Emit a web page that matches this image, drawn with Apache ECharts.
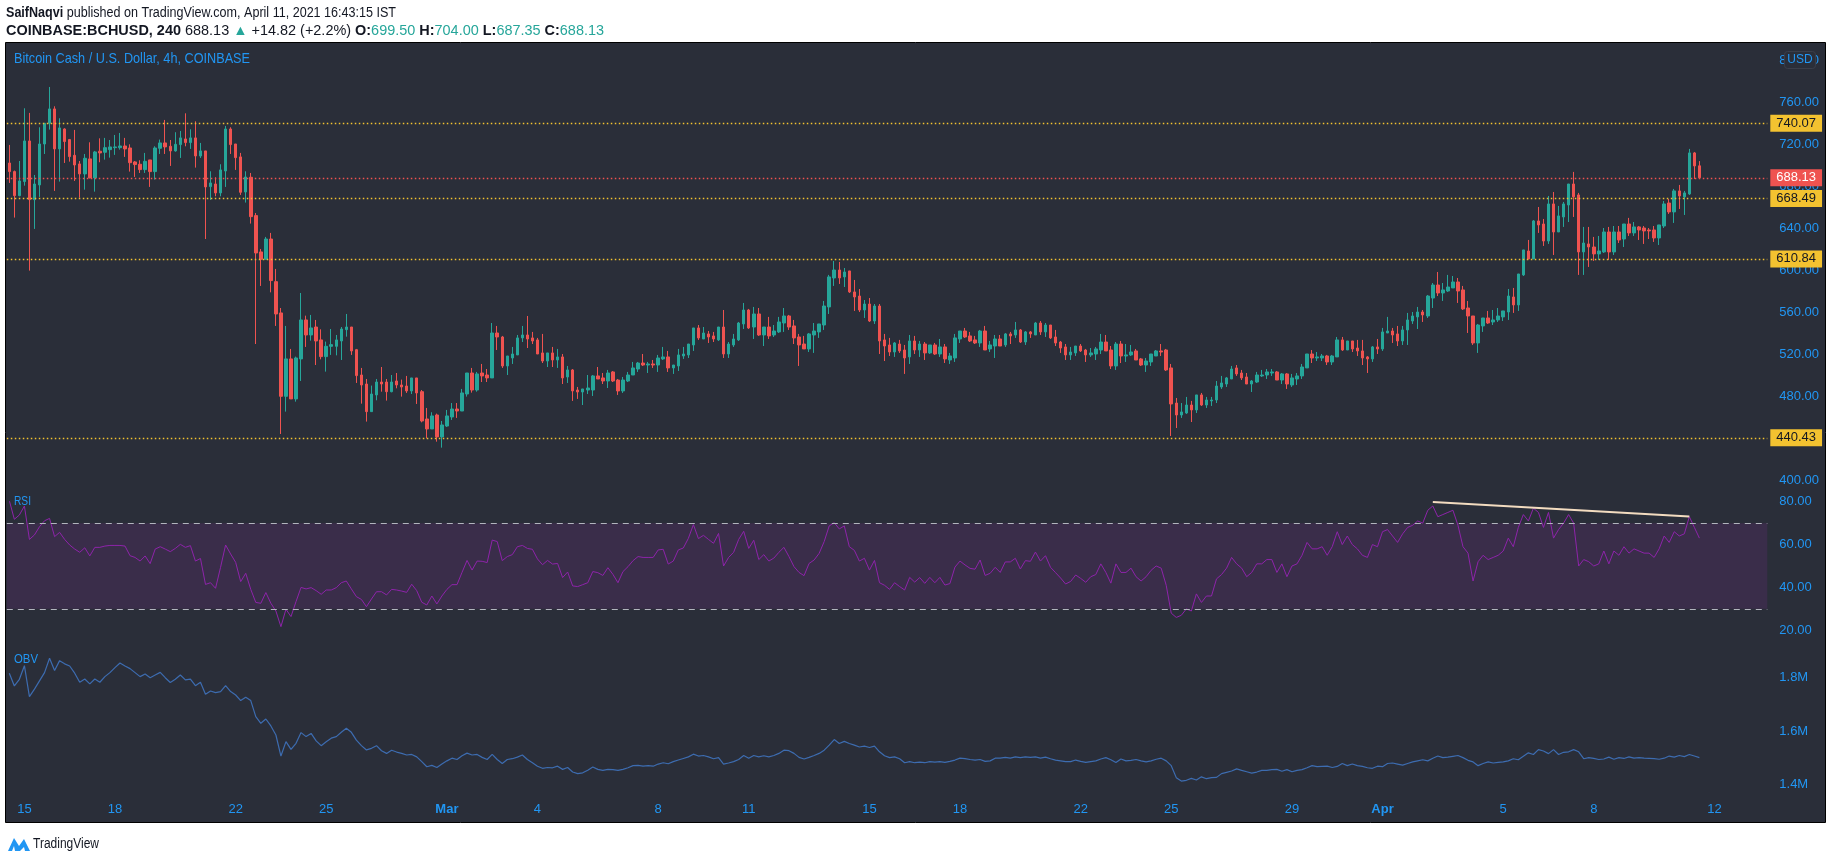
<!DOCTYPE html>
<html><head><meta charset="utf-8">
<script src="https://cdn.jsdelivr.net/npm/echarts@6/dist/echarts.min.js"></script>
<style>html,body{margin:0;padding:0;background:#fff;}#c{width:1828px;height:862px;}</style>
</head><body><div id="c"></div>
<script>
// ---- DATA ----
// 4h candles BCHUSD, [open, high, low, close]
const candles = [
[702.2,719.4,683.2,694.0],[694.0,695.0,650.2,671.1],[671.1,704.1,670.5,685.1],[684.5,754.3,680.6,723.2],[723.2,749.9,599.7,667.3],
[667.3,690.8,639.4,682.2],[681.3,736.2,669.9,720.3],[720.3,740.0,710.8,740.0],[740.0,774.6,734.0,753.7],[753.7,756.2,675.6,715.6],
[715.6,744.8,684.5,735.6],[734.6,735.3,702.2,722.6],[724.5,725.1,703.5,708.3],[709.5,733.7,685.1,700.3],[701.3,704.1,669.2,691.8],
[691.8,710.8,676.8,706.7],[706.1,721.9,687.6,688.0],[688.0,713.7,674.9,712.7],[713.4,725.7,702.9,711.8],[712.4,726.1,705.4,716.8],
[714.9,724.1,707.3,717.5],[716.8,728.9,709.9,717.5],[716.8,730.8,714.9,718.4],[718.4,726.1,708.0,715.6],[716.5,720.0,694.0,702.5],
[703.2,704.1,688.9,700.7],[701.0,704.8,692.7,695.9],[695.9,711.8,692.7,703.8],[705.1,705.1,679.4,694.0],[694.0,718.1,686.4,716.5],
[716.2,724.5,710.8,721.3],[721.3,743.2,710.8,717.5],[718.1,724.1,699.4,713.7],[713.7,731.5,713.0,720.0],[719.7,732.7,707.0,726.1],
[725.1,749.5,718.1,721.6],[721.6,734.3,715.6,726.1],[726.1,741.9,697.8,708.9],[708.9,721.3,707.0,713.7],[713.7,713.7,629.8,679.4],
[679.7,694.3,667.0,683.2],[682.2,688.6,670.5,673.7],[673.7,701.0,670.5,695.6],[694.6,737.5,679.4,734.6],[734.6,736.2,710.8,719.7],
[720.3,720.3,695.6,707.3],[708.0,711.8,671.8,674.3],[674.6,694.3,664.5,688.9],[688.6,692.7,644.5,651.1],[652.1,654.6,529.8,616.5],
[617.5,620.3,585.1,610.5],[610.5,631.8,610.5,629.8],[629.8,635.6,579.0,590.2],[589.2,601.3,547.0,558.4],[559.4,564.1,444.1,480.0],
[480.0,547.0,465.4,515.6],[515.6,525.1,477.5,477.5],[477.5,517.8,474.9,516.5],[515.6,578.4,494.6,552.7],[552.7,556.8,527.0,538.4],
[538.4,557.5,533.0,545.1],[546.0,552.7,509.8,532.7],[533.7,543.8,515.2,517.8],[517.8,532.1,503.5,527.6],[527.6,544.1,519.4,529.2],
[527.6,538.4,519.0,533.7],[532.7,546.0,514.6,544.1],[543.5,558.4,536.8,546.0],[546.0,546.0,519.4,523.2],[524.4,525.1,492.7,499.7],
[500.3,507.0,473.0,490.8],[491.7,496.5,455.9,465.4],[465.4,490.2,465.4,482.2],[481.3,496.5,476.2,493.6],[493.6,507.9,484.4,491.7],
[493.6,496.5,475.9,484.4],[484.4,500.3,483.8,493.6],[494.6,502.2,487.6,490.8],[490.8,495.9,479.7,488.9],[489.8,499.4,483.2,485.1],
[485.1,497.5,482.2,497.5],[497.5,497.5,472.7,483.2],[484.4,486.0,455.2,456.5],[458.4,468.9,440.0,448.9],[448.9,464.8,448.9,461.3],
[462.2,463.5,436.8,441.3],[441.3,456.5,431.1,452.7],[451.7,467.0,450.8,461.3],[460.3,473.6,457.5,467.9],[467.9,473.6,459.4,466.0],
[466.0,487.0,466.0,483.2],[482.2,502.2,479.7,502.2],[502.2,507.0,483.5,486.0],[486.0,503.2,484.4,501.3],[502.2,510.8,493.6,499.4],
[500.3,506.0,493.6,497.5],[497.5,549.8,497.5,540.3],[540.3,547.0,524.1,536.5],[536.5,537.5,507.0,508.9],[508.9,518.4,500.3,518.4],
[516.5,527.0,510.8,520.3],[519.4,538.4,519.4,535.6],[535.6,547.0,531.7,538.4],[538.4,556.5,526.0,534.6],[535.6,541.3,529.8,532.7],
[533.7,535.6,520.3,520.3],[521.3,539.4,511.7,513.6],[513.6,521.3,507.9,521.3],[521.3,527.0,507.9,514.6],[514.6,525.1,507.0,517.5],
[517.5,520.3,491.7,497.5],[498.4,508.9,492.7,505.1],[505.1,506.0,475.6,485.1],[486.0,488.9,477.5,484.1],[484.1,487.0,471.7,487.0],
[486.0,500.3,482.2,487.9],[486.0,500.3,480.3,499.4],[499.4,507.9,496.5,496.5],[497.5,502.2,491.7,494.6],[494.6,505.1,487.9,502.2],
[503.2,504.1,493.6,494.6],[495.5,496.5,481.3,485.1],[485.1,498.4,483.2,495.5],[494.6,503.2,493.6,500.3],[500.3,512.7,500.3,507.0],
[506.0,512.7,503.2,511.7],[511.7,520.3,508.9,509.8],[509.8,512.7,502.2,510.8],[510.8,514.6,507.0,509.8],[509.8,519.4,503.2,516.5],
[515.6,527.0,514.6,517.5],[517.5,523.2,503.2,507.0],[507.0,509.8,501.3,509.8],[508.9,525.1,504.1,519.4],[518.4,527.0,515.6,520.3],
[519.4,529.8,516.5,529.8],[528.9,545.1,523.2,545.1],[545.1,547.9,533.7,535.6],[534.6,546.0,534.6,540.3],[539.4,542.2,530.8,536.5],
[537.5,541.3,531.7,534.6],[533.7,546.0,532.7,546.0],[546.0,562.2,516.5,520.3],[520.3,531.7,516.5,529.8],[528.9,539.4,527.0,534.6],
[533.7,550.8,532.7,549.8],[548.9,568.9,544.1,562.2],[562.2,563.2,544.1,545.1],[546.0,565.1,534.6,558.4],[558.4,564.1,537.5,538.4],
[538.4,546.0,527.9,546.0],[546.0,555.6,534.6,537.5],[538.4,547.9,536.5,542.2],[541.3,555.6,540.3,550.8],[549.8,564.1,541.3,556.5],
[556.5,557.5,543.2,546.0],[547.0,552.7,529.8,535.6],[536.5,539.4,508.9,528.9],[529.8,537.5,525.1,525.1],[525.1,540.3,522.2,539.4],
[538.4,549.8,521.3,542.2],[541.3,548.9,535.6,548.9],[547.9,570.8,543.2,566.0],[565.1,595.6,558.4,593.7],[592.7,608.9,585.1,600.3],
[600.3,608.0,587.0,592.7],[593.7,602.2,584.1,598.4],[599.4,599.4,578.4,579.4],[579.4,590.8,561.3,574.6],[575.5,582.2,560.3,562.2],
[562.2,571.7,554.6,567.9],[567.9,573.6,550.8,551.7],[551.7,567.9,548.9,566.0],[566.0,567.9,520.3,532.7],[533.7,539.4,513.6,527.9],
[528.9,535.6,518.4,522.2],[522.2,531.7,517.5,530.8],[529.8,533.7,521.3,523.2],[524.1,528.9,501.3,516.5],[517.5,538.4,510.8,532.7],
[532.7,537.5,520.3,524.1],[524.1,532.7,517.5,529.8],[529.8,531.7,514.6,521.3],[521.3,528.9,520.3,528.9],[528.9,530.8,519.4,520.3],
[520.3,534.6,517.5,527.0],[527.0,529.8,511.7,515.6],[514.6,521.3,510.8,518.4],[516.5,539.4,512.7,535.6],[534.6,542.2,530.8,542.2],
[542.2,545.1,535.6,536.5],[537.5,541.3,531.7,532.7],[533.7,537.5,529.8,530.8],[530.8,543.2,527.0,542.2],[542.2,547.0,524.1,524.1],
[525.1,532.7,522.2,528.9],[527.9,538.4,516.5,534.6],[534.6,538.4,527.9,527.9],[528.9,540.3,527.0,539.4],[539.4,541.3,529.8,537.5],
[538.4,550.8,535.6,543.2],[543.2,544.1,530.8,531.7],[531.7,542.2,528.9,541.3],[541.3,542.2,535.6,539.4],[538.4,550.8,538.4,549.8],
[549.8,551.7,538.4,541.3],[541.3,549.8,536.5,547.9],[547.9,547.9,534.6,535.6],[536.5,543.2,527.9,530.8],[531.7,532.7,521.3,526.0],
[527.0,529.8,514.6,519.4],[519.4,527.0,514.6,522.2],[521.3,527.9,518.4,527.9],[527.9,529.8,522.2,523.2],[524.1,525.1,512.7,519.4],
[519.4,526.0,517.5,521.3],[520.3,527.0,514.6,525.1],[524.1,539.4,520.3,531.7],[531.7,538.4,523.2,523.2],[524.1,527.9,506.0,508.9],
[508.9,531.7,505.1,529.8],[529.8,532.7,511.7,518.4],[518.4,529.8,512.7,519.4],[519.4,528.9,518.4,522.2],[523.2,525.1,514.6,514.6],
[515.6,516.5,508.9,509.8],[509.8,516.5,503.2,513.6],[512.7,520.3,508.9,520.3],[518.4,524.1,518.4,523.2],[523.2,529.8,518.4,522.2],
[524.1,525.1,504.1,505.1],[507.0,510.8,442.2,472.7],[473.6,478.4,449.8,462.2],[462.2,473.6,459.4,465.1],[464.1,479.4,463.2,471.7],
[471.7,475.6,455.5,467.0],[467.0,481.3,464.1,481.3],[481.3,483.2,470.8,471.7],[471.7,479.4,468.9,476.5],[475.6,479.4,470.8,476.5],
[476.5,494.6,473.6,489.8],[488.9,499.4,487.0,492.7],[491.7,498.4,488.9,497.5],[496.5,508.9,496.5,506.0],[507.0,509.8,499.4,501.3],
[502.2,505.1,495.5,497.5],[498.4,502.2,491.7,491.7],[491.7,495.5,484.1,494.6],[493.6,503.2,492.7,500.3],[499.4,505.1,498.4,500.3],
[500.3,506.0,496.5,503.2],[502.2,506.0,499.4,503.2],[503.2,504.1,495.5,495.5],[495.5,502.2,491.7,501.3],[501.3,502.2,487.0,491.7],
[490.8,501.3,488.9,497.5],[496.5,502.2,490.8,499.4],[499.4,510.8,496.5,507.9],[507.0,520.3,507.0,520.3],[520.3,524.1,511.7,516.5],
[516.5,522.2,513.6,517.5],[516.5,520.3,513.6,518.4],[518.4,519.4,509.8,512.7],[512.7,519.4,509.8,518.4],[517.5,536.5,517.5,533.7],
[533.7,536.5,523.2,524.1],[524.1,532.7,524.1,532.7],[532.7,532.7,522.2,525.1],[526.0,533.7,518.4,523.2],[523.2,533.7,509.8,516.5],
[517.5,518.4,502.2,515.6],[515.6,527.9,512.7,527.0],[527.0,534.6,520.3,525.1],[525.1,545.1,523.2,541.3],[540.3,555.6,540.3,542.2],
[542.2,545.1,530.8,538.4],[539.4,547.0,527.9,532.7],[532.7,547.0,528.9,543.2],[543.2,559.4,528.9,552.7],[551.7,560.3,548.9,556.5],
[555.6,565.1,544.1,560.3],[560.3,562.2,550.8,557.5],[556.5,576.5,554.6,575.5],[573.6,587.9,564.1,586.0],[586.0,598.4,575.5,578.4],
[578.4,587.9,570.8,581.3],[580.3,595.6,579.4,584.1],[583.2,594.6,583.2,588.9],[588.9,592.7,568.9,580.3],[581.3,585.1,562.2,563.2],
[564.1,570.8,540.3,556.5],[556.5,556.5,528.9,530.8],[530.8,548.9,521.3,547.9],[547.0,554.6,541.3,554.6],[554.6,561.3,548.9,549.8],
[550.8,562.2,547.9,552.7],[552.7,564.1,550.8,556.5],[555.6,561.3,551.7,561.3],[560.3,582.2,552.7,575.5],[574.6,583.2,559.4,567.0],
[567.0,596.5,561.3,596.5],[595.6,619.4,594.6,619.4],[618.4,628.9,610.8,610.8],[610.8,647.9,610.8,647.0],[647.0,660.3,635.6,643.2],
[644.1,648.9,623.2,627.9],[627.9,670.8,625.1,663.2],[663.2,674.6,614.6,636.5],[636.5,661.3,636.5,651.8],[650.8,665.1,641.3,663.2],
[662.2,682.2,646.0,682.2],[682.2,693.7,650.8,669.9],[671.8,673.7,595.6,617.5],[617.5,641.3,595.6,626.0],[625.1,641.3,603.2,622.2],
[622.2,631.8,608.9,615.6],[615.6,632.7,609.9,618.4],[617.5,640.3,616.5,636.5],[636.5,641.3,609.9,617.5],[617.5,642.2,614.6,636.5],
[636.5,642.2,626.0,628.9],[629.8,644.1,622.2,644.1],[644.1,649.9,632.7,635.6],[635.6,646.0,632.7,641.3],[641.3,642.2,628.9,638.4],
[640.3,642.2,625.1,637.5],[638.4,640.3,629.8,637.5],[638.4,642.2,627.0,630.8],[630.8,643.2,624.1,643.2],[642.2,666.0,640.3,663.2],
[664.1,667.9,653.7,655.6],[655.6,677.5,645.1,675.6],[675.6,681.3,658.4,670.8],[669.9,675.6,652.7,673.7],[672.7,715.6,671.8,711.8],
[711.8,712.7,687.0,699.4],[699.5,704.0,687.35,688.13]
];
// RSI(14), one value per candle
const rsi = [
80.5,71.8,73.8,78.0,62.4,64.5,68.3,71.1,72.2,63.7,
65.7,62.4,59.8,57.9,56.4,58.5,54.7,58.7,58.7,59.3,
59.6,59.6,59.6,59.3,54.8,54.0,52.3,54.7,51.1,57.9,
59.0,57.9,56.7,58.2,60.1,58.7,59.5,52.3,53.5,41.4,
42.2,39.6,49.4,59.8,55.6,51.7,42.7,46.6,39.1,33.0,
32.6,37.6,32.6,29.0,21.7,29.8,26.4,33.4,40.0,39.3,
39.9,38.5,36.8,38.8,38.8,39.9,42.2,43.0,39.3,35.7,
34.4,31.0,34.6,38.0,38.0,36.5,39.1,38.8,38.3,37.7,
41.5,38.5,33.1,31.8,36.0,32.3,36.0,39.1,41.3,41.3,
47.0,52.6,48.1,52.3,52.2,51.6,62.1,61.4,52.5,54.4,
55.3,59.0,59.6,58.2,57.8,53.3,50.6,52.6,50.9,51.2,
44.6,47.2,40.7,40.4,41.3,42.2,47.4,46.9,45.6,49.2,
46.1,42.2,47.4,49.7,52.5,54.4,54.0,54.0,54.0,57.5,
57.8,50.9,52.3,57.5,58.4,62.9,69.3,62.8,64.3,62.4,
60.6,65.2,50.0,54.0,56.4,62.4,66.2,58.2,62.0,53.0,
55.3,52.3,53.7,56.4,58.7,54.4,49.7,47.0,45.5,51.2,
52.8,55.9,61.4,68.7,70.2,67.3,68.7,59.0,57.3,52.3,
53.6,48.1,52.6,42.2,41.0,39.1,42.2,40.4,38.8,44.7,
42.5,44.6,41.9,44.7,42.2,44.7,41.1,41.8,49.5,52.3,
50.5,48.9,48.5,52.8,45.6,46.6,49.4,47.0,51.9,51.9,
53.6,48.6,52.5,52.2,56.5,52.3,54.8,49.4,46.9,44.4,
41.6,42.8,45.8,44.2,42.4,45,46,51,47,42,
51,47,47,49,45,43,45,48,50,49,
41,28,26,27,30,29,37,33,36,36,
44,46,49,54,51,49,45,47,51,51,
53,53,47,51,45,50,51,55,61,58,
58,59,55,59,66,60,64,60,58,55,
54,60,59,66,67,64,61,65,68,69,
71,70,76,78,73,74,75,76,69,59,
56,43,52,55,53,54,55,57,63,59,
68,74,71,77,75,68,75,63,67,70,
74,70,50,53,52,50,51,57,51,57,
55,59,56,58,57,56,56,54,58,64,
61,66,64,65,73,68,63
];
// On-Balance Volume, millions
const obv = [
1.817,1.769,1.794,1.845,1.729,1.757,1.788,1.819,1.873,1.827,
1.864,1.852,1.844,1.817,1.783,1.795,1.777,1.795,1.783,1.804,
1.819,1.838,1.855,1.844,1.834,1.819,1.804,1.814,1.800,1.810,
1.820,1.800,1.782,1.794,1.810,1.792,1.795,1.770,1.783,1.738,
1.750,1.744,1.748,1.770,1.748,1.735,1.714,1.727,1.714,1.654,
1.629,1.645,1.619,1.585,1.506,1.560,1.531,1.554,1.594,1.579,
1.591,1.563,1.545,1.560,1.573,1.579,1.595,1.610,1.595,1.566,
1.545,1.529,1.535,1.545,1.526,1.516,
1.528,1.521,1.516,1.510,1.512,1.503,1.485,1.466,1.471,1.463,
1.476,1.488,1.498,1.493,1.507,1.517,1.510,1.512,1.501,1.493,
1.512,1.493,1.478,1.493,1.496,1.502,1.510,1.493,1.481,1.468,
1.460,1.463,1.462,1.468,1.456,1.463,1.446,1.440,1.443,1.453,
1.465,1.456,1.452,1.456,1.455,1.452,1.456,1.462,1.470,1.471,
1.468,1.470,1.468,1.476,1.481,1.477,1.485,1.491,1.497,1.503,
1.513,1.506,1.508,1.503,1.496,1.500,1.476,1.480,1.485,1.493,
1.508,1.498,1.508,1.503,1.507,1.503,1.508,1.516,1.528,1.526,
1.516,1.501,1.495,1.501,1.508,1.516,1.528,1.547,1.568,1.553,
1.561,1.553,1.547,1.540,1.543,1.538,1.543,1.522,1.507,1.500,
1.503,1.496,1.481,1.485,1.481,1.483,1.481,1.485,1.483,1.485,
1.482,1.486,1.491,1.498,1.496,1.493,1.491,1.493,1.486,1.488,
1.498,1.498,1.501,1.498,1.503,1.500,1.503,1.501,1.503,1.498,
1.502,1.496,1.491,1.488,1.485,1.485,1.491,1.486,1.482,
1.485,1.488,1.495,1.500,1.492,1.482,1.495,1.488,1.490,1.493,
1.488,1.484,1.488,1.494,1.498,1.488,1.470,1.425,1.412,1.415,
1.422,1.416,1.428,1.421,1.425,1.426,1.440,1.445,1.450,1.458,
1.452,1.447,1.442,1.446,1.452,1.452,1.455,1.456,1.449,1.455,
1.447,1.452,1.455,1.462,1.470,1.466,1.467,1.468,1.463,1.467,
1.478,1.470,1.476,1.470,1.467,1.462,1.460,1.468,1.466,1.478,
1.480,1.476,1.472,1.478,1.484,1.488,1.492,1.488,1.498,1.506,
1.500,1.502,1.505,1.508,1.500,1.490,1.484,1.470,1.478,1.484,
1.480,1.482,1.484,1.488,1.496,1.492,1.505,1.518,1.512,1.530,
1.525,1.515,1.530,1.512,1.520,1.522,1.530,1.522,1.496,1.500,
1.497,1.493,1.495,1.502,1.494,1.500,1.497,1.503,1.498,1.500,
1.498,1.497,1.496,1.494,1.498,1.506,1.502,1.508,1.504,1.512,
1.506,1.500
];
const levels = [740.07, 668.49, 610.84, 440.43];
const lastPrice = 688.13;
const rsiBands = [70, 30];
// RSI divergence trendline: [bar index, RSI value] endpoints
const rsiTrendStart = [283, 79.9];
const rsiTrendEnd = [333.5, 73.1];
const xTickIndex = [3,21,45,63,87,105,129,147,171,189,213,231,255,273,297,315,339];
const xTickText  = ['15','18','22','25','Mar','4','8','11','15','18','22','25','29','Apr','5','8','12'];
const slotCount = 350;

// ---- CHART ----
const FONT = '"Liberation Sans", Arial, sans-serif';
const BLUE = '#2196f3', UP = '#26a69a', DOWN = '#ef5350', YEL = '#f3c230', INK = '#131722';
const cats = Array.from({length: slotCount}, (_, i) => String(i));
const tickMap = {};
xTickIndex.forEach((k, j) => tickMap[k] = xTickText[j]);

// text width helper (to fit graphic texts to the reference widths)
const mctx = document.createElement('canvas').getContext('2d');
function tw(parts, size) {
  let w = 0;
  parts.forEach(p => { mctx.font = (p[1] ? 'bold ' : '') + size + 'px "Liberation Sans", Arial, sans-serif'; w += mctx.measureText(p[0]).width; });
  return w;
}
function fitted(x, y, text, rich, parts, size, fill, target, z) {
  const w = tw(parts, size);
  const s = Math.max(0.7, Math.min(1.1, target / w));
  return {type:'text', z: z || 5, x: x, y: y, scaleX: s, originX: 0, originY: 0,
    style: {text: text, fill: fill, fontSize: size, fontFamily: FONT, verticalAlign: 'middle', rich: rich || {}}};
}

const GL = 6.8, GW = 1760.5;
const baseX = (idx, show) => ({type:'category', gridIndex: idx, data: cats, show: !!show, boundaryGap: true,
  axisLine:{show:false}, axisTick:{show:false}, splitLine:{show:false}});
const axLabel = (fmt) => ({color: BLUE, fontSize: 13, fontFamily: FONT, margin: 12, formatter: fmt});

const richB = {b:{fontWeight:'bold', fontSize:14, fontFamily:FONT, fill:INK}, g:{fontSize:14, fontFamily:FONT, fill:UP}};
const line1 = '{b|SaifNaqvi} published on TradingView.com, April 11, 2021 16:43:15 IST';
const line1Parts = [['SaifNaqvi',1],[' published on TradingView.com, April 11, 2021 16:43:15 IST',0]];
const line2 = '{b|COINBASE:BCHUSD, 240} 688.13 {g|▲} +14.82 (+2.2%) {b|O:}{g|699.50} {b|H:}{g|704.00} {b|L:}{g|687.35} {b|C:}{g|688.13}';
const line2Parts = [['COINBASE:BCHUSD, 240',1],[' 688.13 ▲ +14.82 (+2.2%) ',0],['O:',1],['699.50 ',0],['H:',1],['704.00 ',0],['L:',1],['687.35 ',0],['C:',1],['688.13',0]];

const chart = echarts.init(document.getElementById('c'), null, {renderer:'canvas'});
chart.setOption({
  animation: false,
  backgroundColor: '#ffffff',
  grid: [
    {left: GL, width: GW, top: 60.3, height: 420, outerBoundsMode: 'none', containLabel: false},
    {left: GL, width: GW, top: 501.7, height: 128.6, outerBoundsMode: 'none', containLabel: false},
    {left: GL, width: GW, top: 624.4, height: 213.2, outerBoundsMode: 'none', containLabel: false},
    {left: GL, width: GW, top: 795, height: 1, outerBoundsMode: 'none', containLabel: false}
  ],
  xAxis: [
    baseX(0), baseX(1), baseX(2),
    Object.assign(baseX(3, true), {
      axisLabel: {
        interval: (i) => tickMap[i] !== undefined,
        formatter: (v, i) => {
          const t = tickMap[i];
          if (t === undefined) return '';
          return (t === 'Mar' || t === 'Apr') ? '{b|' + t + '}' : t;
        },
        color: BLUE, fontSize: 13, fontFamily: FONT, margin: 7,
        rich: {b: {fontWeight: 'bold', color: BLUE, fontSize: 13, fontFamily: FONT}}
      }
    })
  ],
  yAxis: [
    {type:'value', gridIndex:0, position:'right', min:400, max:800, interval:40,
      axisLine:{show:false}, axisTick:{show:false}, splitLine:{show:false},
      axisLabel: axLabel(v => v.toFixed(2))},
    {type:'value', gridIndex:1, position:'right', min:20, max:80, interval:20,
      axisLine:{show:false}, axisTick:{show:false}, splitLine:{show:false},
      axisLabel: axLabel(v => v.toFixed(2))},
    {type:'value', gridIndex:2, position:'right', min:1.2, max:2.0, interval:0.2,
      axisLine:{show:false}, axisTick:{show:false}, splitLine:{show:false},
      axisLabel: axLabel(v => { const r = Math.round(v*10)/10; return (r >= 1.35 && r <= 1.85) ? r.toFixed(1) + 'M' : ''; })},
    {type:'value', gridIndex:3, show:false}
  ],
  series: [
    {
      type: 'candlestick', xAxisIndex: 0, yAxisIndex: 0, barWidth: 3,
      data: candles.map(c => [c[0], c[3], c[2], c[1]]),
      itemStyle: {color: UP, color0: DOWN, borderColor: UP, borderColor0: DOWN, borderWidth: 1},
      markLine: {
        silent: true, symbol: ['none','none'], animation: false,
        data: levels.map(v => ({yAxis: v,
            lineStyle: {color: YEL, type: [1.5, 2.5], width: 1.3},
            label: {show: true, position: 'end', distance: 3, formatter: () => v.toFixed(2),
              backgroundColor: YEL, color: INK, fontFamily: FONT, fontSize: 13, padding: [2, 6, 2, 6], lineHeight: 13}}))
          .concat([{yAxis: lastPrice,
            lineStyle: {color: DOWN, type: [1.5, 2.5], width: 1.3},
            label: {show: true, position: 'end', distance: 3, formatter: () => lastPrice.toFixed(2),
              backgroundColor: DOWN, color: '#ffffff', fontFamily: FONT, fontSize: 13, padding: [2, 6, 2, 6], lineHeight: 13}}])
      }
    },
    {
      type: 'line', xAxisIndex: 1, yAxisIndex: 1, data: rsi, showSymbol: false, symbol: 'none',
      lineStyle: {color: '#8e24aa', width: 1}, z: 3,
      markArea: {silent: true, itemStyle: {color: 'rgba(155,39,176,0.15)'},
        data: [[{yAxis: rsiBands[1]}, {yAxis: rsiBands[0]}]]},
      markLine: {silent: true, symbol: ['none','none'], label: {show: false},
        lineStyle: {color: '#b2b5be', type: [6, 5], width: 1},
        data: rsiBands.map(v => ({yAxis: v}))}
    },
    {
      type: 'line', xAxisIndex: 1, yAxisIndex: 1, data: [rsiTrendStart, rsiTrendEnd],
      showSymbol: false, symbol: 'none', silent: true, z: 4, clip: false,
      lineStyle: {color: '#f3dcc0', width: 2}
    },
    {
      type: 'line', xAxisIndex: 2, yAxisIndex: 2, data: obv, showSymbol: false, symbol: 'none',
      lineStyle: {color: '#3d6cb0', width: 1.2}
    }
  ],
  graphic: [
    {type:'rect', z:-10, silent:true, shape:{x:5.5, y:42.5, width:1820, height:780},
      style:{fill:'#2a2e39', stroke:'#000000', lineWidth:1}},
    fitted(6, 13, line1, richB, line1Parts, 14, INK, 390),
    fitted(6, 31, line2, richB, line2Parts, 14, INK, 598),
    fitted(14, 59, 'Bitcoin Cash / U.S. Dollar, 4h, COINBASE', null, [['Bitcoin Cash / U.S. Dollar, 4h, COINBASE',0]], 15, BLUE, 236),
    fitted(14, 501, 'RSI', null, [['RSI',0]], 13, BLUE, 17),
    fitted(14, 659, 'OBV', null, [['OBV',0]], 13, BLUE, 24),
    {type:'rect', z:20, shape:{x:1784.5, y:51.5, width:31, height:17, r:3},
      style:{fill:'#2a2e39', stroke:'#3a3e4a', lineWidth:1}},
    {type:'text', z:21, x:1800, y:60, style:{text:'USD', fill:BLUE, fontSize:12, fontFamily:FONT, align:'center', verticalAlign:'middle'}},
    {type:'polygon', z:5, shape:{points:[[8,851],[14,838],[19,846],[24,839],[30,851],[25,851],[24,847],[20,851],[15,851],[14,846],[12,851]]},
      style:{fill:BLUE}},
    fitted(33, 844, 'TradingView', null, [['TradingView',0]], 14, INK, 66)
  ]
});
</script></body></html>
